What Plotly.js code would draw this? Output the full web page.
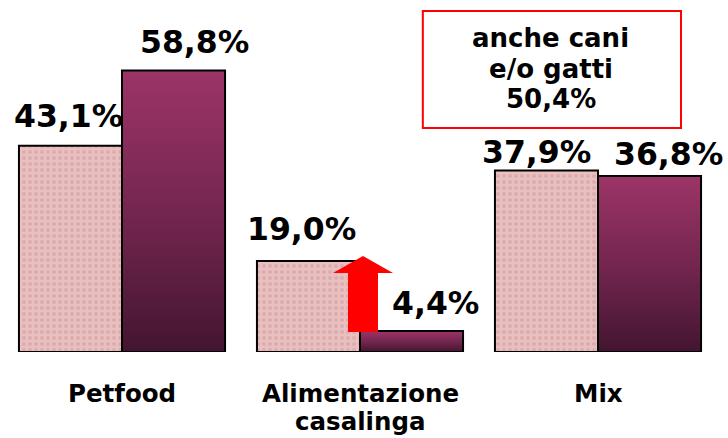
<!DOCTYPE html>
<html><head><meta charset="utf-8">
<script src="https://cdn.plot.ly/plotly-3.0.1.min.js"></script>
<style>html,body{margin:0;padding:0;background:#fff}</style>
</head><body><div id="chart" style="width:728px;height:438px"></div>
<script>
const categories = ["Petfood", "Alimentazione<br>casalinga", "Mix"];
const seriesA = [43.1, 19.0, 37.9];
const seriesB = [58.8, 4.4, 36.8];
const labelsA = ["43,1%", "19,0%", "37,9%"];
const labelsB = ["58,8%", "4,4%", "36,8%"];
const boxLines = ["anche cani", "e/o gatti", "50,4%"];

// label placement offsets (pixels), as laid out in the reference
const shiftA = {x: [-1.5, -6.5, -9.5], y: [30, 32, 19]};
const shiftB = {x: [21, 23.5, 19], y: [29, 28, 22]};
const boxLineShift = [-21, -52, -82];

const bargap = 0.134;
const xIdx = categories.map((c, i) => i);
const halfW = (1 - bargap) / 4;
const FONT = "DejaVu Sans, Verdana, sans-serif";

const traces = [
  {type: "bar", x: xIdx, y: seriesA, hoverinfo: "none",
   marker: {color: "#e8bcbc", line: {color: "#000", width: 2},
            pattern: {shape: ".", bgcolor: "#e9bfbf", fgcolor: "#dcadaf", size: 6, solidity: 0.35}}},
  {type: "bar", x: xIdx, y: seriesB, hoverinfo: "none",
   marker: {color: "#7a2850", line: {color: "#000", width: 2}}}
];

const annotations = [];
xIdx.forEach(i => {
  annotations.push({x: i - halfW, y: seriesA[i], xref: "x", yref: "y", text: "<b>" + labelsA[i] + "</b>",
    showarrow: false, yanchor: "middle", yshift: shiftA.y[i], xshift: shiftA.x[i],
    font: {family: FONT, size: 31.5, color: "#000"}});
  annotations.push({x: i + halfW, y: seriesB[i], xref: "x", yref: "y", text: "<b>" + labelsB[i] + "</b>",
    showarrow: false, yanchor: "middle", yshift: shiftB.y[i], xshift: shiftB.x[i],
    font: {family: FONT, size: 31.5, color: "#000"}});
  categories[i].split("<br>").forEach((line, k) => {
    annotations.push({x: i, y: 0, xref: "x", yref: "y", text: "<b>" + line + "</b>",
      showarrow: false, yanchor: "middle", yshift: -41 - 28 * k,
      font: {family: FONT, size: 24.5, color: "#000"}});
  });
});
boxLines.forEach((line, k) => {
  annotations.push({x: 0.7675, y: 1, xref: "paper", yref: "paper", text: "<b>" + line + "</b>",
    showarrow: false, xanchor: "center", yanchor: "middle", yshift: boxLineShift[k],
    font: {family: FONT, size: 26, color: "#000"}});
});

const shapes = [
  {type: "rect", xref: "paper", yref: "paper", x0: 0.588, x1: 0.9496, y0: 0.6687, y1: 1.018,
   line: {color: "#ff0000", width: 2}, fillcolor: "rgba(0,0,0,0)"},
  {type: "path", xref: "x", yref: "y", layer: "above",
   path: "M 0.9496 4.2 L 0.9496 16.5 L 0.8866 16.5 L 1.0126 20.06 L 1.1387 16.5 L 1.0756 16.5 L 1.0756 4.2 Z",
   fillcolor: "#ff0000", line: {width: 0}}
];

const layout = {
  width: 728, height: 438,
  margin: {l: 3, r: 11, t: 17, b: 86},
  paper_bgcolor: "#fff", plot_bgcolor: "#fff",
  barmode: "group", bargap: bargap, bargroupgap: 0,
  showlegend: false,
  xaxis: {range: [-0.5, 2.5], showticklabels: false, ticks: "", showgrid: false, zeroline: false, showline: false},
  yaxis: {range: [0, 70], visible: false, showgrid: false, zeroline: false},
  annotations: annotations, shapes: shapes
};

Plotly.newPlot("chart", traces, layout, {staticPlot: true}).then(gd => {
  const svg = gd.querySelector("svg.main-svg");
  const ns = "http://www.w3.org/2000/svg";
  let defs = svg.querySelector("defs");
  const grad = document.createElementNS(ns, "linearGradient");
  grad.setAttribute("id", "barGradB");
  grad.setAttribute("x1", "0"); grad.setAttribute("y1", "0");
  grad.setAttribute("x2", "0"); grad.setAttribute("y2", "1");
  [["0", "#9c3468"], ["0.5", "#742650"], ["1", "#431530"]].forEach(([o, c]) => {
    const s = document.createElementNS(ns, "stop");
    s.setAttribute("offset", o); s.setAttribute("stop-color", c);
    grad.appendChild(s);
  });
  defs.appendChild(grad);
  const traceGroups = gd.querySelectorAll("g.trace.bars");
  if (traceGroups[1]) {
    traceGroups[1].querySelectorAll("path").forEach(p => { p.style.fill = "url(#barGradB)"; });
  }
});
</script></body></html>
